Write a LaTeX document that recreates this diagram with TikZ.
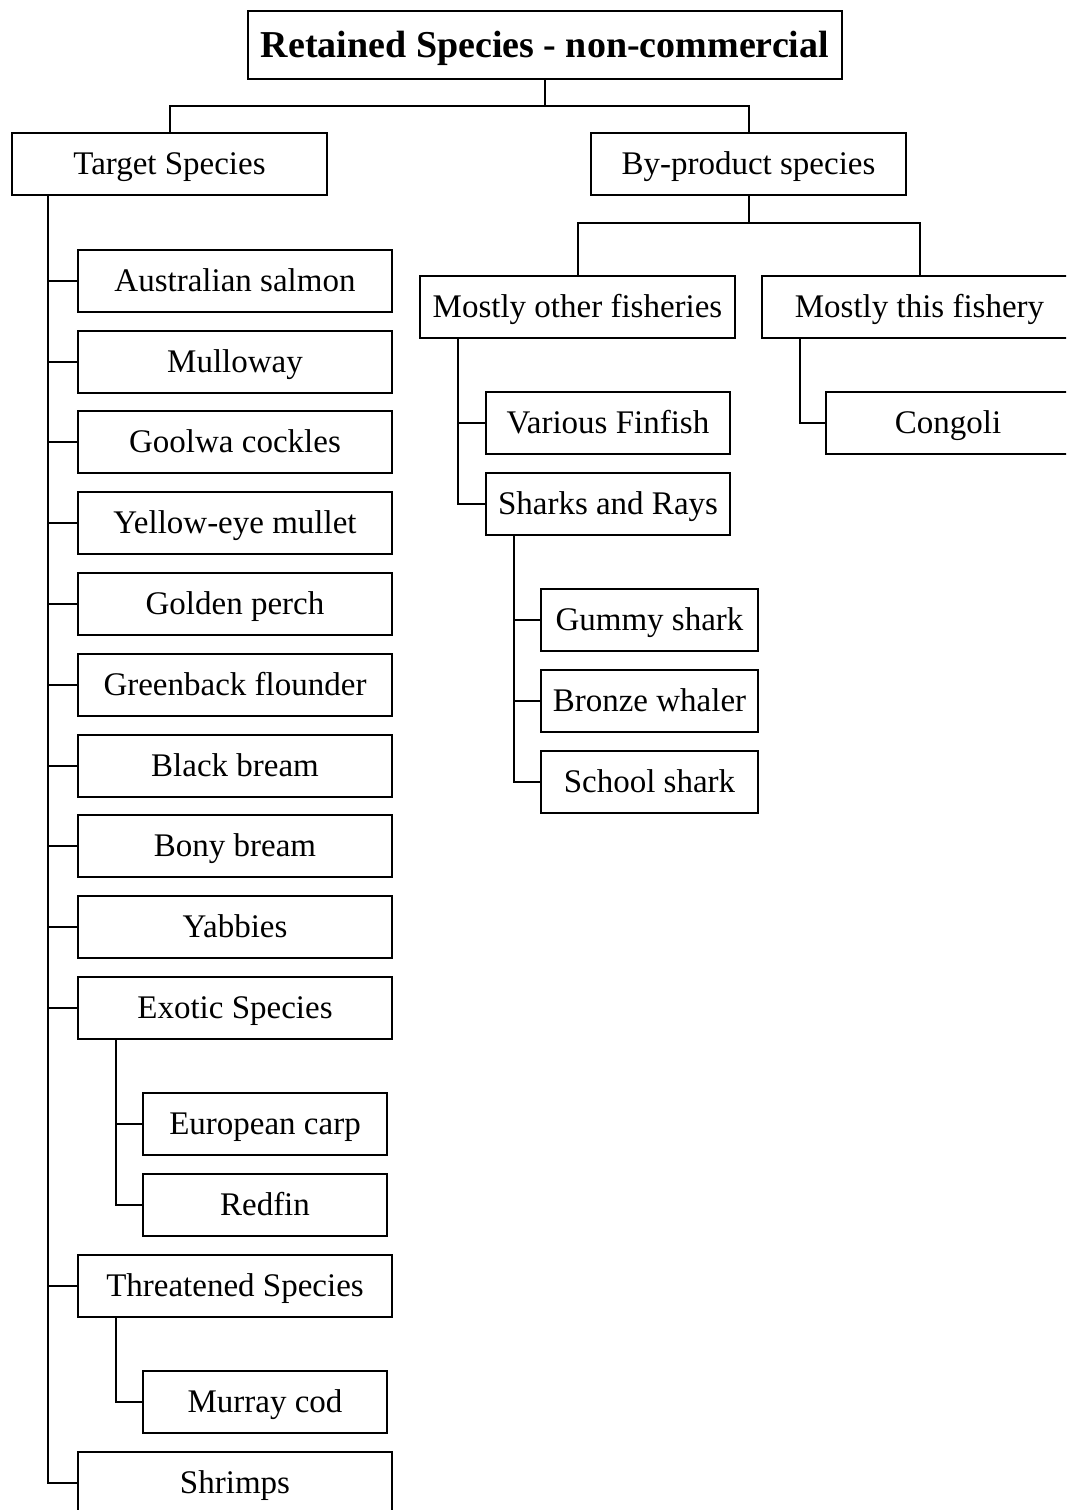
\documentclass[tikz,border=0pt]{standalone}
\usepackage{fontspec}
\setmainfont{Liberation Serif}
\begin{document}
\begin{tikzpicture}[x=1pt,y=-1pt,line width=2pt,
  box/.style={draw,line width=2pt,inner sep=0pt,minimum height=62pt,
    font=\fontsize{33pt}{39pt}\selectfont,text height=22pt,text depth=2pt},
  w315/.style={box,minimum width=315pt},
  w314/.style={box,minimum width=314pt},
  w244/.style={box,minimum width=244pt},
  w217/.style={box,minimum width=217pt},
  titlebox/.style={draw,line width=2pt,inner sep=0pt,minimum width=594pt,minimum height=68pt,
    font=\fontsize{38pt}{44pt}\selectfont\bfseries,text height=26pt,text depth=2pt},
  conn/.style={line width=2pt}]
\useasboundingbox (0,0) rectangle (1066,1510);
\clip (0,0) rectangle (1066,1510);
% top
\node[titlebox] (title) at (545,45) {Retained Species - non-commercial};
\node[w315] (target) at (169.5,164) {Target Species};
\node[w315] (byprod) at (748.5,164) {By-product species};
% target children
\node[w314] (salmon) at (235,281) {Australian salmon};
\node[w314] (mulloway) at (235,362) {Mulloway};
\node[w314] (goolwa) at (235,442) {Goolwa cockles};
\node[w314] (yellow) at (235,523) {Yellow-eye mullet};
\node[w314] (golden) at (235,604) {Golden perch};
\node[w314] (greenback) at (235,685) {Greenback flounder};
\node[w314] (black) at (235,766) {Black bream};
\node[w314] (bony) at (235,846) {Bony bream};
\node[w314] (yabbies) at (235,927) {Yabbies};
\node[w314] (exotic) at (235,1008) {Exotic Species};
\node[w244] (carp) at (265,1124) {European carp};
\node[w244] (redfin) at (265,1205) {Redfin};
\node[w314] (threatened) at (235,1286) {Threatened Species};
\node[w244] (murray) at (265,1402) {Murray cod};
\node[w314] (shrimps) at (235,1483) {Shrimps};
% by-product children
\node[w315] (mostlyother) at (577.5,307) {Mostly other fisheries};
\node[w315] (mostlythis) at (919.5,307) {Mostly this fishery};
\node[w244] (finfish) at (608,423) {Various Finfish};
\node[w244] (sharks) at (608,504) {Sharks and Rays};
\node[w217] (gummy) at (649.5,620) {Gummy shark};
\node[w217] (bronze) at (649.5,701) {Bronze whaler};
\node[w217] (school) at (649.5,782) {School shark};
\node[w244] (congoli) at (948,423) {Congoli};
% connectors: top level
\draw[conn] (title.south) -- ++(0,26) coordinate (tj);
\draw[conn] (tj) -| (target.north);
\draw[conn] (tj) -| (byprod.north);
\draw[conn] (byprod.south) -- ++(0,27) coordinate (bj);
\draw[conn] (bj) -| (mostlyother.north);
\draw[conn] (bj) -| (mostlythis.north);
% target spine
\coordinate (ts) at ([xshift=37pt]target.south west);
\draw[conn] (ts) |- (shrimps.west);
\foreach \n in {salmon,mulloway,goolwa,yellow,golden,greenback,black,bony,yabbies,exotic,threatened}
  \draw[conn] (\n.west) -- (\n.west -| ts);
% exotic spine
\coordinate (es) at ([xshift=39pt]exotic.south west);
\draw[conn] (es) |- (redfin.west);
\draw[conn] (carp.west) -- (carp.west -| es);
% threatened spine
\coordinate (thr) at ([xshift=39pt]threatened.south west);
\draw[conn] (thr) |- (murray.west);
% mostly other spine
\coordinate (ms) at ([xshift=39pt]mostlyother.south west);
\draw[conn] (ms) |- (sharks.west);
\draw[conn] (finfish.west) -- (finfish.west -| ms);
% sharks spine
\coordinate (ss) at ([xshift=29pt]sharks.south west);
\draw[conn] (ss) |- (school.west);
\foreach \n in {gummy,bronze}
  \draw[conn] (\n.west) -- (\n.west -| ss);
% mostly this spine
\coordinate (ct) at ([xshift=39pt]mostlythis.south west);
\draw[conn] (ct) |- (congoli.west);
\end{tikzpicture}
\end{document}
